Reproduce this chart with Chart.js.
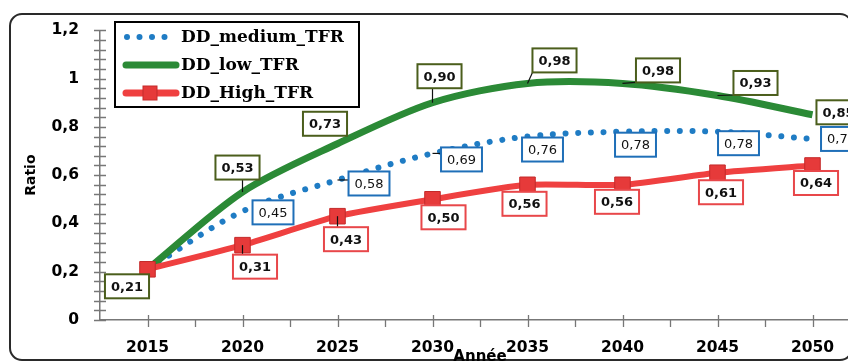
<!DOCTYPE html>
<html lang="fr">
<head>
<meta charset="UTF-8">
<title>Ratio DD par année</title>
<script src="https://cdn.jsdelivr.net/npm/chart.js"></script>
<style>
    html, body { margin: 0; padding: 0; background: #fff; overflow: hidden; }
    #wrap { width: 880px; height: 370px; }
</style>
</head>
<body>
<div id="wrap"><canvas id="ratioChart" width="880" height="370"></canvas></div>
<script>
// données
const years = [2015, 2020, 2025, 2030, 2035, 2040, 2045, 2050];
const mediumTFR = [0.21, 0.45, 0.58, 0.69, 0.76, 0.78, 0.78, 0.75];
const lowTFR = [0.21, 0.53, 0.73, 0.90, 0.98, 0.98, 0.93, 0.85];
const highTFR = [0.21, 0.31, 0.43, 0.50, 0.56, 0.56, 0.61, 0.64];
const seriesNames = ['DD_medium_TFR', 'DD_low_TFR', 'DD_High_TFR'];
const yTickValues = [0, 0.2, 0.4, 0.6, 0.8, 1, 1.2];

Chart.defaults.font.family = "'DejaVu Sans', sans-serif";
Chart.defaults.color = '#000';

const toPoints = vals => years.map((y, i) => ({ x: y, y: vals[i] }));
const comma = v => String(Math.round(v * 100) / 100).replace('.', ',');
const comma2 = v => v.toFixed(2).replace('.', ',');

// cadre, petites graduations, étiquettes encadrées et légende
const decor = {
    id: 'decor',
    beforeDraw(chart) {
        const ctx = chart.ctx;
        ctx.save();
        ctx.strokeStyle = '#2a2a2a';
        ctx.lineWidth = 2;
        ctx.beginPath();
        ctx.roundRect(10, 14, 842, 346, 12);
        ctx.stroke();
        ctx.restore();
    },
    afterDraw(chart) {
        const ctx = chart.ctx;
        const xs = chart.scales.x, ys = chart.scales.y;
        ctx.save();

        // graduations
        ctx.strokeStyle = '#777';
        ctx.lineWidth = 1.3;
        ctx.beginPath();
        for (let v = 0; v <= 1.2001; v += 0.04) {
            const py = Math.round(ys.getPixelForValue(v)) + 0.5;
            ctx.moveTo(xs.left - 6, py);
            ctx.lineTo(xs.left + 6, py);
        }
        for (let v = 2015; v <= 2052.5; v += 2.5) {
            const px = Math.round(xs.getPixelForValue(v)) + 0.5;
            const major = v % 5 === 0;
            ctx.moveTo(px, ys.bottom - (major ? 5 : 0));
            ctx.lineTo(px, ys.bottom + 7);
        }
        ctx.stroke();

        // étiquettes de valeurs
        chart.data.datasets.forEach((ds, di) => {
            const meta = chart.getDatasetMeta(di);
            const lab = ds.labelBox;
            ctx.font = (lab.bold ? 'bold ' : '') + "13px 'DejaVu Sans'";
            meta.data.forEach((pt, i) => {
                const off = lab.offsets[i];
                if (!off) return;
                const text = comma2(ds.data[i].y);
                const w = ctx.measureText(text).width + 12, h = 24;
                const cx = pt.x + off[0], cy = pt.y + off[1];
                const l = cx - w / 2, t = cy - h / 2;
                if (lab.leaders[i]) {
                    const nx = Math.min(Math.max(pt.x, l), l + w);
                    const ny = Math.min(Math.max(pt.y, t), t + h);
                    ctx.strokeStyle = '#111';
                    ctx.lineWidth = 1.2;
                    ctx.beginPath();
                    ctx.moveTo(pt.x, pt.y);
                    ctx.lineTo(nx, ny);
                    ctx.stroke();
                }
                ctx.fillStyle = '#fff';
                ctx.fillRect(l, t, w, h);
                ctx.strokeStyle = lab.border;
                ctx.lineWidth = 2;
                ctx.strokeRect(l, t, w, h);
                ctx.fillStyle = '#111';
                ctx.textAlign = 'center';
                ctx.textBaseline = 'middle';
                ctx.fillText(text, cx, cy + 1);
            });
        });

        // légende
        const lx = 115, ly = 22, lw = 244, lh = 85;
        ctx.fillStyle = '#fff';
        ctx.fillRect(lx, ly, lw, lh);
        ctx.strokeStyle = '#000';
        ctx.lineWidth = 2;
        ctx.strokeRect(lx, ly, lw, lh);
        const rows = [37, 65, 93];
        chart.data.datasets.forEach((ds, di) => {
            const y = rows[di];
            ctx.lineCap = 'round';
            if (di === 0) {
                ctx.fillStyle = ds.borderColor;
                for (let k = 0; k < 4; k++) {
                    ctx.beginPath();
                    ctx.arc(127 + k * 12.5, y, 3, 0, Math.PI * 2);
                    ctx.fill();
                }
            } else {
                ctx.strokeStyle = ds.borderColor;
                ctx.lineWidth = 7;
                ctx.beginPath();
                ctx.moveTo(126, y);
                ctx.lineTo(176, y);
                ctx.stroke();
                if (di === 2) {
                    ctx.fillStyle = ds.pointBackgroundColor;
                    ctx.fillRect(143, y - 7, 14, 14);
                    ctx.strokeStyle = ds.pointBorderColor;
                    ctx.lineWidth = 1;
                    ctx.strokeRect(143, y - 7, 14, 14);
                }
            }
            ctx.fillStyle = '#000';
            ctx.font = "bold 17px 'DejaVu Serif'";
            ctx.textAlign = 'left';
            ctx.textBaseline = 'middle';
            ctx.fillText(ds.label, 181, y + 1);
        });
        ctx.restore();
    }
};

new Chart(document.getElementById('ratioChart'), {
    type: 'line',
    data: {
        datasets: [
            {
                label: seriesNames[0],
                data: toPoints(mediumTFR),
                borderColor: '#1f7cc4',
                borderWidth: 6,
                borderDash: [0.01, 12.7],
                borderCapStyle: 'round',
                tension: 0.35,
                pointRadius: 0,
                order: 2,
                labelBox: {
                    bold: false, border: '#1f6fb8',
                    offsets: [null, [30.5, 1], [31.5, 3.5], [29, 6], [15, 13], [13, 13], [21, 11.5], [29, 0]],
                    leaders: [0, 0, 1, 1, 0, 0, 0, 0]
                }
            },
            {
                label: seriesNames[1],
                data: toPoints(lowTFR),
                borderColor: '#2b8a36',
                borderWidth: 7,
                tension: 0.3,
                pointRadius: 0,
                order: 1,
                labelBox: {
                    bold: true, border: '#4b5e1c',
                    offsets: [[-20.5, 17], [-5, -24.5], [-12.5, -20], [7, -26.5], [27, -23], [35.5, -13], [38, -12.5], [26, -2.5]],
                    leaders: [0, 1, 0, 1, 1, 1, 1, 0]
                }
            },
            {
                label: seriesNames[2],
                data: toPoints(highTFR),
                borderColor: '#ef4040',
                borderWidth: 6,
                tension: 0.2,
                pointStyle: 'rect',
                pointRadius: 11,
                pointBackgroundColor: '#e63a3a',
                pointBorderColor: '#c42a2a',
                pointBorderWidth: 1,
                order: 0,
                labelBox: {
                    bold: true, border: '#e8474a',
                    offsets: [null, [12.5, 21.5], [8.5, 23], [11, 18], [-3, 19], [-5.5, 17], [3.5, 19.5], [3.5, 17.5]],
                    leaders: [0, 1, 1, 0, 0, 0, 0, 0]
                }
            }
        ]
    },
    options: {
        responsive: false,
        animation: false,
        layout: { padding: { top: 26, left: 10, right: 20, bottom: 0 } },
        plugins: { legend: { display: false }, tooltip: { enabled: false } },
        scales: {
            x: {
                type: 'linear',
                min: 2012.5,
                max: 2052.5,
                afterFit: s => { s.height = 50; },
                afterBuildTicks: s => { s.ticks = years.map(v => ({ value: v })); },
                ticks: {
                    padding: 19,
                    font: { size: 15.5, weight: 'bold' },
                    callback: v => String(v)
                },
                grid: { drawOnChartArea: false, drawTicks: false },
                border: { color: '#777', width: 1.5 },
                title: {
                    display: true,
                    text: 'Année',
                    font: { size: 15, weight: 'bold' },
                    padding: { top: 0, bottom: 4 }
                }
            },
            y: {
                min: 0,
                max: 1.2,
                afterFit: s => { s.width = 90; },
                afterBuildTicks: s => { s.ticks = yTickValues.map(v => ({ value: v })); },
                ticks: {
                    padding: 21,
                    font: { size: 15.5, weight: 'bold' },
                    callback: v => comma(v)
                },
                grid: { drawOnChartArea: false, drawTicks: false },
                border: { color: '#777', width: 1.5 },
                title: {
                    display: true,
                    text: 'Ratio',
                    font: { size: 14, weight: 'bold' },
                    padding: { top: 13, bottom: 0 }
                }
            }
        }
    },
    plugins: [decor]
});
</script>
</body>
</html>
